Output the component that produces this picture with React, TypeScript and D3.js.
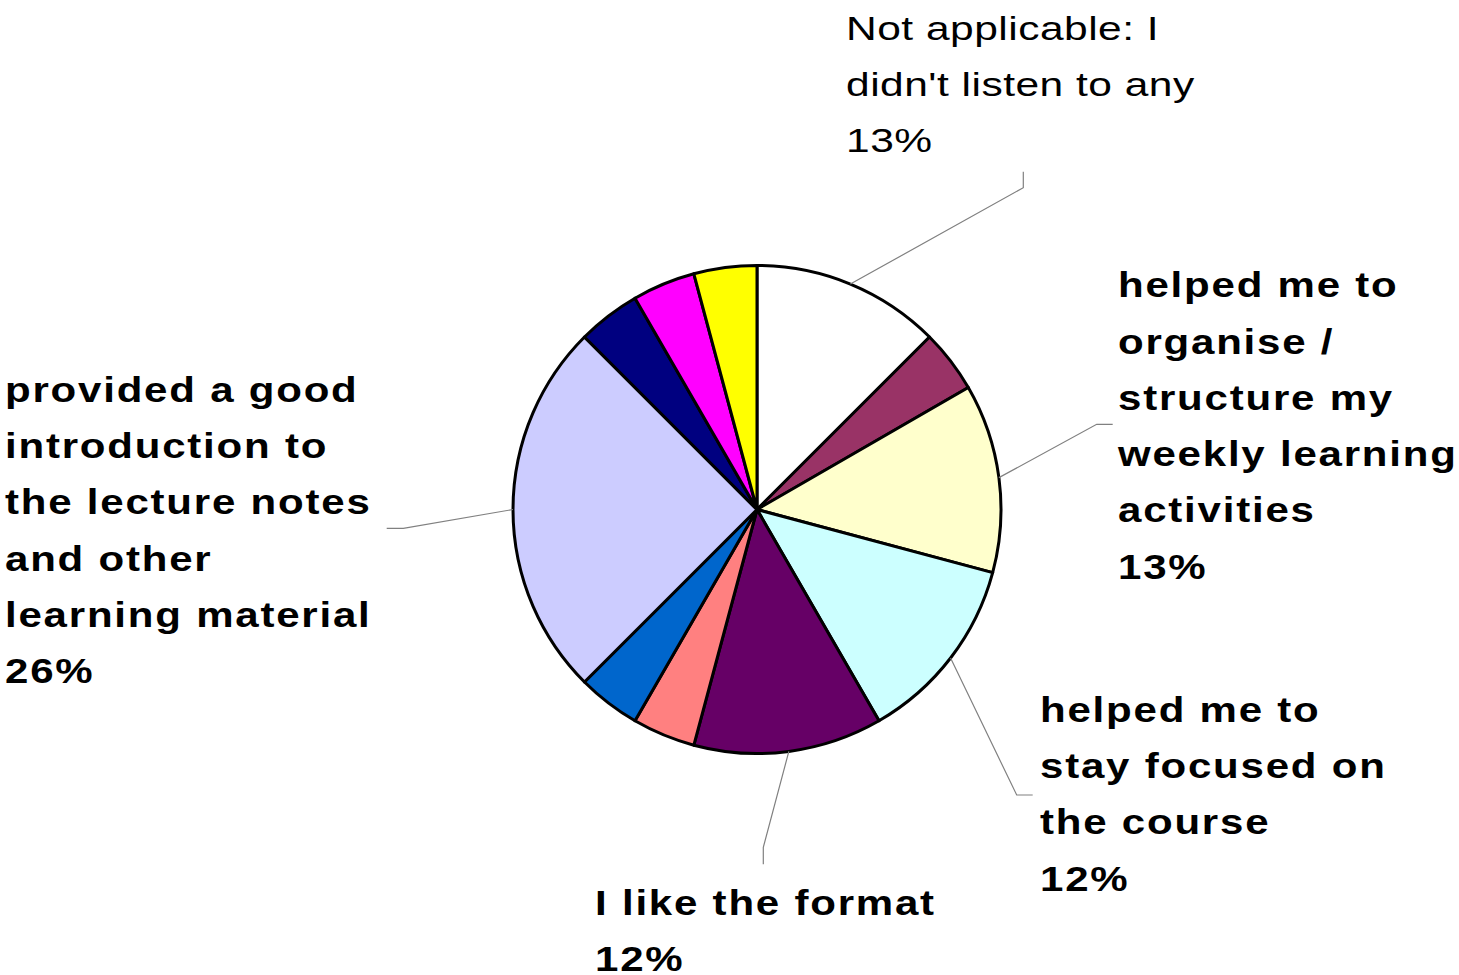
import React from "react";
import * as d3 from "d3";

// ---- data ----
const categories = [
  "Not applicable: I didn't listen to any",
  "Other 1",
  "helped me to organise / structure my weekly learning activities",
  "helped me to stay focused on the course",
  "I like the format",
  "Other 2",
  "Other 3",
  "provided a good introduction to the lecture notes and other learning material",
  "Other 4",
  "Other 5",
  "Other 6",
];
const counts = [3, 1, 3, 3, 3, 1, 1, 6, 1, 1, 1];
const percentLabels = ["13%", "4%", "13%", "12%", "12%", "4%", "4%", "26%", "4%", "4%", "4%"];
const labelLines: string[][] = [
  ["Not applicable: I", "didn't listen to any"],
  [],
  ["helped me to", "organise /", "structure my", "weekly learning", "activities"],
  ["helped me to", "stay focused on", "the course"],
  ["I like the format"],
  [],
  [],
  ["provided a good", "introduction to", "the lecture notes", "and other", "learning material"],
  [],
  [],
  [],
];
const colors = [
  "#FFFFFF", "#993366", "#FFFFCC", "#CCFFFF", "#660066", "#FF8080",
  "#0066CC", "#CCCCFF", "#000080", "#FF00FF", "#FFFF00",
];

// ---- layout ----
const W = 1459, H = 975;
const CX = 757, CY = 509.5, R = 244;
const LINE_H = 56.3;
type LabelLayout = { x: number; y: number; bold: boolean; elbow: [number, number]; end: [number, number] };
const labelLayout: Record<number, LabelLayout> = {
  0: { x: 846, y: 39.5, bold: false, elbow: [1023.3, 187.7], end: [1023.3, 171.7] },
  2: { x: 1118, y: 297.3, bold: true, elbow: [1096.7, 424.3], end: [1112.7, 424.3] },
  3: { x: 1040, y: 721.7, bold: true, elbow: [1016.7, 795], end: [1032.7, 795] },
  4: { x: 595, y: 915, bold: true, elbow: [763.3, 847.3], end: [763.3, 864.3] },
  7: { x: 5, y: 401.7, bold: true, elbow: [403.3, 528.3], end: [386.7, 528.3] },
};

export default function App() {
  const pie = d3.pie<number>().sort(null).value((d) => d).startAngle(0).endAngle(2 * Math.PI);
  const arcs = pie(counts);
  const arc = d3.arc<d3.PieArcDatum<number>>().innerRadius(0).outerRadius(R);

  return (
    <svg
      width={W}
      height={H}
      style={{ position: "absolute", left: 0, top: 0, background: "#fff" }}
      fontFamily="'Liberation Sans', Arial, sans-serif"
    >
      <rect x={0} y={0} width={W} height={H} fill="#fff" />
      <g transform={`translate(${CX},${CY})`}>
        {arcs.map((a, i) => (
          <path key={categories[i]} d={arc(a) || ""} fill={colors[i]} stroke="#000" strokeWidth={3} strokeLinejoin="round" />
        ))}
      </g>
      {arcs.map((a, i) => {
        const L = labelLayout[i];
        if (!L) return null;
        const mid = (a.startAngle + a.endAngle) / 2;
        const px = CX + R * Math.sin(mid);
        const py = CY - R * Math.cos(mid);
        const lines = [...labelLines[i], percentLabels[i]];
        const sx = L.bold ? 1.2 : 1.25;
        return (
          <g key={"lab" + i}>
            <polyline
              points={`${px},${py} ${L.elbow[0]},${L.elbow[1]} ${L.end[0]},${L.end[1]}`}
              fill="none"
              stroke="#808080"
              strokeWidth={1.2}
            />
            <text
              transform={`translate(${L.x},${L.y}) scale(${sx},1)`}
              fontSize={L.bold ? 35 : 34}
              fontWeight={L.bold ? "bold" : "normal"}
              letterSpacing={L.bold ? 1.5 : 0.4}
              fill="#000"
            >
              {lines.map((t, k) => (
                <tspan key={k} x={0} y={k * LINE_H}>
                  {t}
                </tspan>
              ))}
            </text>
          </g>
        );
      })}
    </svg>
  );
}
